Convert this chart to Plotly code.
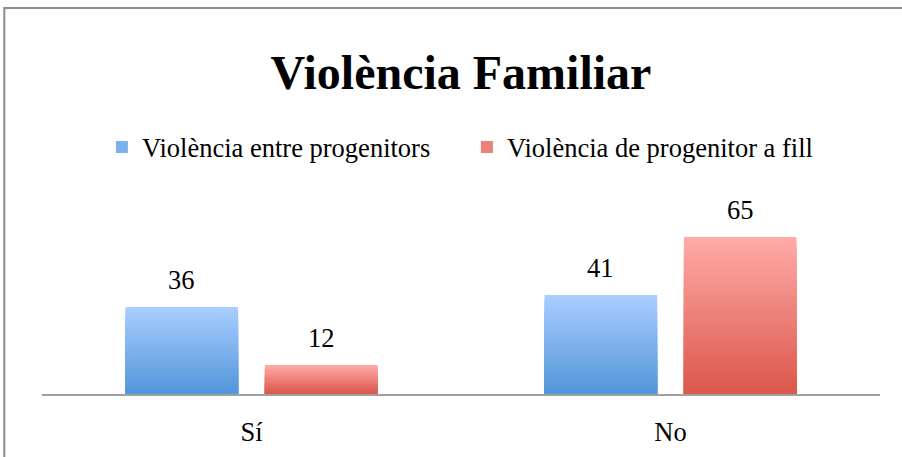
import plotly.graph_objects as go

# =========================
# DATA
# =========================
categories = ["Sí", "No"]
series_names = ["Violència entre progenitors", "Violència de progenitor a fill"]
entre_progenitors = [36, 41]
progenitor_a_fill = [12, 65]

# top colour, bottom colour of the gradient fill
blue_grad = ("#A9CDFF", "#5396DA")
red_grad = ("#FFAAA7", "#DB584C")

series = [
    (series_names[0], entre_progenitors, blue_grad),
    (series_names[1], progenitor_a_fill, red_grad),
]

FONT = "Liberation Serif, Times New Roman, serif"
N_STEPS = 40


def mix(c1, c2, t):
    a = [int(c1[i:i + 2], 16) for i in (1, 3, 5)]
    b = [int(c2[i:i + 2], 16) for i in (1, 3, 5)]
    return "rgb(%d,%d,%d)" % tuple(round(x + (y - x) * t) for x, y in zip(a, b))


fig = go.Figure()

# Gradient bars: overlapping bars of decreasing height, darker toward the base
for name, values, (top, bottom) in series:
    for k in range(N_STEPS):
        frac = 1 - k / N_STEPS
        fig.add_trace(
            go.Bar(
                x=categories,
                y=[v * frac for v in values],
                name=name,
                offsetgroup=name,
                legendgroup=name,
                showlegend=(k == N_STEPS // 2),
                marker=dict(color=mix(top, bottom, k / (N_STEPS - 1)), line_width=0),
                hoverinfo="skip" if k else "x+y+name",
            )
        )

# Value labels above each bar
for j, (name, values, _) in enumerate(series):
    for cat, v in zip(categories, values):
        fig.add_annotation(
            x=cat, y=v, text=str(v), showarrow=False,
            xshift=-70 if j == 0 else 70, yshift=10, yanchor="bottom",
            font=dict(family=FONT, size=26.5, color="black"),
        )

# Outer chart frame (left and top edges are the only ones inside the picture)
fig.add_shape(
    type="path", xref="paper", yref="paper",
    path="M -0.045,-0.6 L -0.045,2.284 L 1.03,2.284",
    line=dict(color="#8C8C8C", width=2), layer="below",
)

fig.update_layout(
    width=902,
    height=457,
    barmode="group",
    bargap=0.335,
    bargroupgap=0.193,
    plot_bgcolor="white",
    paper_bgcolor="white",
    margin=dict(l=42, r=22, t=225, b=63, autoexpand=False),
    font=dict(family=FONT, size=26.5, color="black"),
    title=dict(
        text="<b>Violència Familiar</b>",
        font=dict(family=FONT, size=48, color="black"),
        xref="paper", x=0.5, xanchor="center",
        yref="container", y=0.842, yanchor="middle",
    ),
    legend=dict(
        orientation="h",
        x=0.0715, xanchor="left",
        y=1.46, yanchor="middle",
        entrywidth=320, entrywidthmode="pixels",
        font=dict(family=FONT, size=26.5),
        itemclick=False,
    ),
    xaxis=dict(
        showline=True, linecolor="#A0A0A0", linewidth=2,
        showgrid=False, ticks="", ticklabelstandoff=13,
        automargin=False,
        tickfont=dict(family=FONT, size=26.5),
    ),
    yaxis=dict(
        range=[0, 70], visible=False, showgrid=False, automargin=False,
    ),
    showlegend=True,
)

fig.write_html(
    "out.html",
    config={"displayModeBar": False},
    post_script="document.body.style.margin='0';",
)
